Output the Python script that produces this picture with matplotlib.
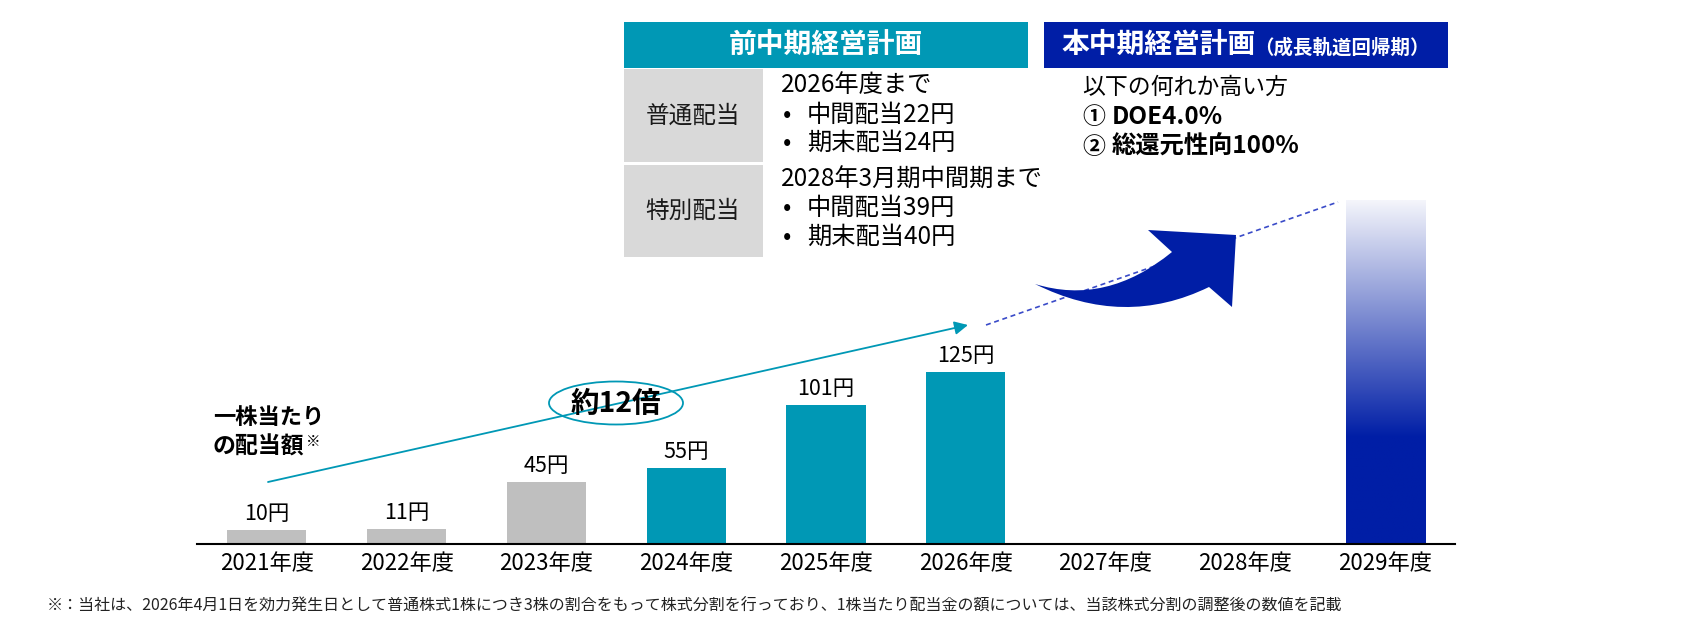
import numpy as np
import matplotlib
matplotlib.use('Agg')
import matplotlib.pyplot as plt
from matplotlib.patches import Rectangle, Ellipse, PathPatch
from matplotlib.path import Path
from matplotlib.colors import LinearSegmentedColormap

plt.rcParams['font.family'] = ['Noto Sans CJK JP', 'DejaVu Sans']

# data
years = ['2021年度', '2022年度', '2023年度', '2024年度', '2025年度',
         '2026年度', '2027年度', '2028年度', '2029年度']
dividends = [10, 11, 45, 55, 101, 125]
bar_colors = ['#BFBFBF', '#BFBFBF', '#BFBFBF', '#0098B5', '#0098B5', '#0098B5']
target_year = '2029年度'
target_height = 250  # illustrative bar, no value given

TEAL = '#0098B5'
BLUE = '#001EA6'

W, H = 1687, 631
fig = plt.figure(figsize=(W / 100, H / 100), dpi=100)


# pixel -> figure fraction helpers for the decorations
def fx(x):
    return x / W


def fy(y):
    return 1 - y / H


ax = fig.add_axes([fx(197), fy(544), 1258 / W, 444 / H])
ax.patch.set_alpha(0)

# bars
w = 0.566
x = np.arange(len(dividends))
ax.bar(x, dividends, width=w, color=bar_colors, zorder=2)
for xi, v in zip(x, dividends):
    ax.annotate(f'{v}円', (xi, v), xytext=(0, 11.5), textcoords='offset points',
                ha='center', va='center', fontsize=15.5)

# gradient bar for the plan year
i9 = years.index(target_year)
grad = np.linspace(0, 1, 256).reshape(-1, 1)
cmap = LinearSegmentedColormap.from_list('plan', [(0, BLUE), (0.31, BLUE), (1.0, '#F4F5FB')])
ax.imshow(grad, extent=[i9 - w / 2, i9 + w / 2, 0, target_height], origin='lower',
          aspect='auto', cmap=cmap, interpolation='bilinear', zorder=2)

ax.set_xlim(-0.5, len(years) - 0.5)
ax.set_ylim(0, 323)
ax.set_xticks(range(len(years)), years, fontsize=16)
ax.tick_params(axis='x', length=0, pad=6)
ax.set_yticks([])
for s in ['top', 'left', 'right']:
    ax.spines[s].set_visible(False)
ax.spines['bottom'].set_linewidth(1.5)
ax.spines['bottom'].set_color('black')

# overlay in pixel coordinates for the decorations
ax_ann = fig.add_axes([0, 0, 1, 1], zorder=3)
ax_ann.set_xlim(0, W)
ax_ann.set_ylim(H, 0)
ax_ann.axis('off')

# growth arrow + ellipse
ax_ann.annotate('', xy=(968, 325), xytext=(268, 482),
                arrowprops=dict(arrowstyle='-|>', color=TEAL, lw=1.3, mutation_scale=20,
                                shrinkA=0, shrinkB=0))
ax_ann.add_patch(Ellipse((616, 403), 134, 43, facecolor='white', edgecolor=TEAL, lw=1.3))
ax_ann.text(616, 404, '約12倍', ha='center', va='center', fontsize=20.5, fontweight='bold')

ax_ann.text(213, 418, '一株当たり', ha='left', va='center', fontsize=16, fontweight='bold')
ax_ann.text(213, 447, 'の配当額', ha='left', va='center', fontsize=16.5, fontweight='bold')
ax_ann.text(306, 442, '※', ha='left', va='center', fontsize=10.5)

# dashed trend line and swoosh arrow
ax_ann.plot([986, 1338], [325, 202], color='#3A4BC8', lw=1.2, dashes=(3, 2.2))
verts = [(1035, 284), (1106, 306), (1172, 252), (1148, 230), (1236, 235),
         (1232, 307), (1209, 287), (1124, 328.5), (1035, 284), (1035, 284)]
codes = [Path.MOVETO, Path.CURVE3, Path.CURVE3, Path.LINETO, Path.LINETO,
         Path.LINETO, Path.LINETO, Path.CURVE3, Path.CURVE3, Path.CLOSEPOLY]
ax_ann.add_patch(PathPatch(Path(verts, codes), facecolor=BLUE, edgecolor='none', zorder=4))

# header boxes
ax_ann.add_patch(Rectangle((624, 22), 404, 46, facecolor=TEAL, edgecolor='none'))
ax_ann.add_patch(Rectangle((1044, 22), 404, 46, facecolor=BLUE, edgecolor='none'))
ax_ann.text(826, 45, '前中期経営計画', ha='center', va='center', fontsize=20,
            fontweight='bold', color='white')
ax_ann.text(1061, 45, '本中期経営計画', ha='left', va='center', fontsize=20,
            fontweight='bold', color='white')
ax_ann.text(1254, 48, '（成長軌道回帰期）', ha='left', va='center', fontsize=14,
            fontweight='bold', color='white')

# table on the left
ax_ann.add_patch(Rectangle((624, 69), 139, 93, facecolor='#D9D9D9', edgecolor='none'))
ax_ann.add_patch(Rectangle((624, 165), 139, 92, facecolor='#D9D9D9', edgecolor='none'))
ax_ann.text(693, 116, '普通配当', ha='center', va='center', fontsize=17, color='#1a1a1a')
ax_ann.text(693, 211, '特別配当', ha='center', va='center', fontsize=17, color='#1a1a1a')

ax_ann.text(781, 85, '2026年度まで', ha='left', va='center', fontsize=17.5)
ax_ann.text(781, 180, '2028年3月期中間期まで', ha='left', va='center', fontsize=17.5)
bullets = [(115, '中間配当22円'), (143, '期末配当24円'), (208, '中間配当39円'), (237, '期末配当40円')]
for yy, t in bullets:
    ax_ann.text(783, yy, '•', ha='left', va='center', fontsize=17.5)
    ax_ann.text(807, yy, t, ha='left', va='center', fontsize=17.5)

# right side text
ax_ann.text(1082, 87, '以下の何れか高い方', ha='left', va='center', fontsize=16.5)
ax_ann.text(1082, 117, '①', ha='left', va='center', fontsize=16.5, fontweight='bold')
ax_ann.text(1112, 117, 'DOE4.0%', ha='left', va='center', fontsize=17.5, fontweight='bold')
ax_ann.text(1082, 147, '②', ha='left', va='center', fontsize=16.5, fontweight='bold')
ax_ann.text(1112, 147, '総還元性向100%', ha='left', va='center', fontsize=17.5, fontweight='bold')

# footnote
ax_ann.text(47, 606, '※：当社は、2026年4月1日を効力発生日として普通株式1株につき3株の割合をもって株式分割を行っており、'
            '1株当たり配当金の額については、当該株式分割の調整後の数値を記載',
            ha='left', va='center', fontsize=11.5, color='#222222')

fig.savefig('out.png', dpi=100)
